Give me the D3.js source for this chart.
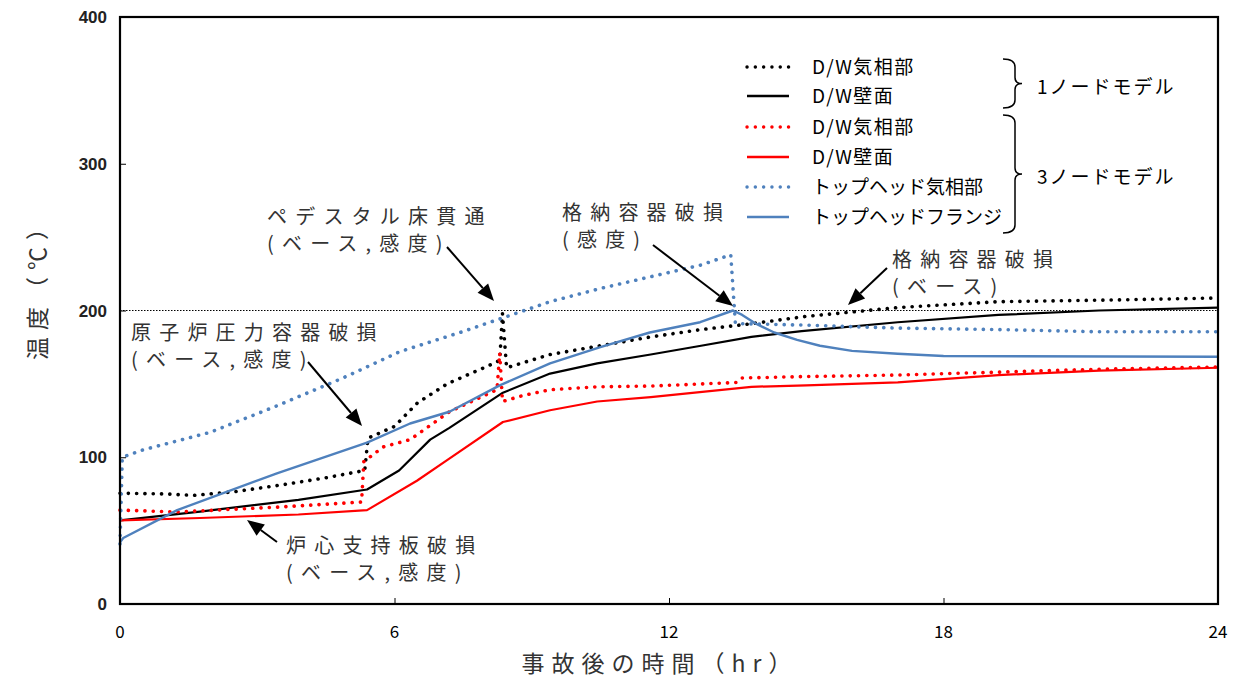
<!DOCTYPE html>
<html><head><meta charset="utf-8">
<script src="https://cdn.jsdelivr.net/npm/d3@7"></script>
<style>
html,body{margin:0;padding:0;background:#fff;}
svg{display:block;}
</style></head>
<body>
<svg id="c" width="1240" height="679"></svg>
<script>
// ---- data ----
const xTicks = [0, 6, 12, 18, 24];
const yTicks = [0, 100, 200, 300, 400];

const t_bkGas = [0, 1, 1.6, 2.5, 3.5, 4.5, 5.35, 5.42, 6, 6.5, 7.15, 8.1, 8.3, 8.36, 8.45, 9.4, 10.5, 11.6, 12.7, 13.8, 15, 16, 17, 19.2, 21.4, 24];
const v_bkGas = [75.5, 75, 74, 76.5, 81, 86, 91, 113, 121, 137, 150, 163, 166, 198, 161, 170, 176, 182, 187, 191, 196, 199, 202, 206, 207, 208.5];

const t_bkWall = [0, 1.75, 3.9, 5.4, 6.1, 6.78, 7.2, 8.37, 9.4, 10.43, 11.6, 12.7, 13.8, 14.9, 17, 19.2, 21.4, 24];
const v_bkWall = [57, 63, 71, 78, 91, 112, 120, 144, 157, 164, 170, 176, 182, 186, 192, 197, 200, 202];

const t_rdGas = [0, 1.25, 3.43, 5.28, 5.33, 5.75, 6.34, 7.2, 8.24, 8.3, 8.36, 8.8, 9.4, 10.43, 11.6, 13.5, 13.6, 15, 17, 19.2, 21.4, 24];
const v_rdGas = [64, 62.7, 66, 69.5, 97, 107, 112, 131, 146, 171, 138, 142, 146, 148, 148.5, 151, 154, 155, 156, 158, 160, 161.5];

const t_rdWall = [0, 1.75, 3.9, 5.4, 6.49, 7.15, 8.37, 9.4, 10.43, 11.6, 13.8, 15, 17, 19.2, 21.4, 24];
const v_rdWall = [57, 58.6, 61, 64, 84, 98, 124, 132, 138, 141, 148, 149, 151, 156, 159, 161];

const t_thGas = [0, 0.05, 0.5, 1.97, 3.43, 4.87, 6.12, 7.43, 8.37, 9.4, 10.5, 11.6, 12.7, 13.35, 13.45, 13.6, 15, 17, 19.2, 21.4, 24];
const v_thGas = [41, 100, 105, 117, 135, 154, 172, 185, 195, 206, 215, 223, 231, 238, 191.5, 191, 190, 188, 187, 185.5, 185.5];

const t_thFlange = [0, 0.07, 1.25, 3.43, 5.4, 6.34, 7.2, 8.3, 9.4, 10.5, 11.58, 12.68, 13.4, 13.6, 13.9, 14.3, 14.8, 15.3, 16, 17, 18, 24];
const v_thFlange = [42, 45, 64, 89, 110, 123, 131, 149, 164, 175, 185, 192, 200, 197, 191, 185, 180, 176, 172.5, 170.5, 169, 168.5];

const seriesNames = ["D/W気相部", "D/W壁面", "D/W気相部", "D/W壁面", "トップヘッド気相部", "トップヘッドフランジ"];
const groupLabels = ["1ノードモデル", "3ノードモデル"];

// ---- chart ----
const svg = d3.select("#c");
const X = d3.scaleLinear().domain([0, 24]).range([120, 1218]);
const Y = d3.scaleLinear().domain([0, 400]).range([604, 17]);
const BLUE = "#4f81bd", RED = "#ff0000", BLACK = "#000";
const jp = "'Noto Sans CJK JP', 'Noto Sans', sans-serif";

const styles = [
  {c: BLACK, dot: true, t: t_bkGas, v: v_bkGas},
  {c: BLACK, dot: false, t: t_bkWall, v: v_bkWall},
  {c: RED, dot: true, t: t_rdGas, v: v_rdGas},
  {c: RED, dot: false, t: t_rdWall, v: v_rdWall},
  {c: BLUE, dot: true, t: t_thGas, v: v_thGas},
  {c: BLUE, dot: false, t: t_thFlange, v: v_thFlange}
];

// reference line at 200
svg.append("line").attr("x1", X(0)).attr("x2", X(24)).attr("y1", Y(200)).attr("y2", Y(200))
  .attr("stroke", "#000").attr("stroke-width", 1).attr("stroke-dasharray", "1.5 1.5");

const line = d3.line().x(d => X(d[0])).y(d => Y(d[1]));
styles.forEach(s => {
  const pts = s.t.map((t, i) => [t, s.v[i]]);
  const p = svg.append("path").attr("d", line(pts)).attr("fill", "none").attr("stroke", s.c);
  if (s.dot) {
    p.attr("stroke-width", 3.6).attr("stroke-linecap", "round").attr("stroke-dasharray", "0.1 8.2");
  } else {
    p.attr("stroke-width", s.c === BLUE ? 2.4 : 2.2).attr("stroke-linejoin", "round");
  }
});

// frame
svg.append("rect").attr("x", X(0)).attr("y", Y(400)).attr("width", X(24) - X(0)).attr("height", Y(0) - Y(400))
  .attr("fill", "none").attr("stroke", "#000").attr("stroke-width", 2.2);

// ticks (inside)
const xAxis = d3.axisTop(X).tickValues(xTicks.slice(1, -1)).tickSize(6).tickFormat("");
svg.append("g").attr("transform", `translate(0,${Y(0)})`).call(xAxis)
  .call(g => g.select(".domain").remove())
  .call(g => g.selectAll("line").attr("stroke", "#000").attr("stroke-width", 1));
const yAxis = d3.axisRight(Y).tickValues(yTicks.slice(1, -1)).tickSize(6).tickFormat("");
svg.append("g").attr("transform", `translate(${X(0)},0)`).call(yAxis)
  .call(g => g.select(".domain").remove())
  .call(g => g.selectAll("line").attr("stroke", "#000").attr("stroke-width", 1));

// tick labels
svg.append("g").selectAll("text").data(xTicks).join("text")
  .attr("x", d => X(d)).attr("y", 638).attr("text-anchor", "middle")
  .attr("font-family", jp).attr("font-size", 17).attr("fill", "#000").text(d => d);
svg.append("g").selectAll("text").data(yTicks).join("text")
  .attr("x", 107).attr("y", d => Y(d) + 6).attr("text-anchor", "end")
  .attr("font-family", "'Liberation Sans', Arial, sans-serif").attr("font-weight", "bold")
  .attr("font-size", 17).attr("fill", "#222").text(d => d);

// axis titles
svg.append("text").attr("x", 660).attr("y", 672).attr("text-anchor", "middle")
  .attr("font-family", jp).attr("font-size", 23).attr("letter-spacing", 7)
  .attr("fill", "#333").text("事故後の時間（hr）");
svg.append("text").attr("transform", "translate(46,285) rotate(-90)").attr("text-anchor", "middle")
  .attr("font-family", jp).attr("font-size", 23).attr("letter-spacing", 7)
  .attr("fill", "#333").text("温度（℃）");

// legend
const legY = [67, 96, 127, 157, 187, 217];
styles.forEach((s, i) => {
  const l = svg.append("line").attr("x1", 747).attr("x2", 789).attr("y1", legY[i]).attr("y2", legY[i]).attr("stroke", s.c);
  if (s.dot) l.attr("stroke-width", 3.4).attr("stroke-linecap", "round").attr("stroke-dasharray", "0.1 8.2");
  else l.attr("stroke-width", 2.4);
  svg.append("text").attr("x", 812).attr("y", legY[i] + 7).attr("font-family", jp).attr("font-size", 19)
    .attr("letter-spacing", i < 4 ? 1.5 : 0).attr("fill", "#000").text(seriesNames[i]);
});

// braces
function brace(x, y0, y1) {
  const ym = (y0 + y1) / 2, w = 12;
  const d = `M${x},${y0} Q${x + w},${y0} ${x + w},${y0 + 8} L${x + w},${ym - 6} Q${x + w},${ym} ${x + w + 7},${ym}` +
            ` Q${x + w},${ym} ${x + w},${ym + 6} L${x + w},${y1 - 8} Q${x + w},${y1} ${x},${y1}`;
  svg.append("path").attr("d", d).attr("fill", "none").attr("stroke", "#000").attr("stroke-width", 1.5);
}
brace(1003, 59, 108);
brace(1003, 115, 233);
svg.append("text").attr("x", 1037).attr("y", 94).attr("font-family", jp).attr("font-size", 19).attr("letter-spacing", 2).attr("fill", "#000").text(groupLabels[0]);
svg.append("text").attr("x", 1037).attr("y", 184).attr("font-family", jp).attr("font-size", 19).attr("letter-spacing", 2).attr("fill", "#000").text(groupLabels[1]);

// annotations
function note(x, y, lines) {
  lines.forEach((t, i) => {
    svg.append("text").attr("x", x).attr("y", y + i * 27).attr("font-family", jp).attr("font-size", 20)
      .attr("letter-spacing", 8.2).attr("fill", "#333").text(t);
  });
}
function arrow(x1, y1, x2, y2) {
  const a = Math.atan2(y2 - y1, x2 - x1), L = 17, W = 7;
  const bx = x2 - L * Math.cos(a), by = y2 - L * Math.sin(a);
  svg.append("line").attr("x1", x1).attr("y1", y1).attr("x2", bx).attr("y2", by).attr("stroke", "#000").attr("stroke-width", 2);
  svg.append("path").attr("d", `M${x2},${y2} L${bx + W * Math.sin(a)},${by - W * Math.cos(a)} L${bx - W * Math.sin(a)},${by + W * Math.cos(a)} Z`).attr("fill", "#000");
}
note(267, 224, ["ペデスタル床貫通", "(ベース,感度)"]);
arrow(447, 247, 494, 301);
note(562, 220, ["格納容器破損", "(感度)"]);
arrow(653, 245, 733, 306);
note(892, 267, ["格納容器破損", "(ベース)"]);
arrow(887, 268, 848, 305);
note(131, 340, ["原子炉圧力容器破損", "(ベース,感度)"]);
arrow(308, 362, 362, 426);
note(286, 553, ["炉心支持板破損", "(ベース,感度)"]);
arrow(277, 542, 247, 520);
</script>
</body></html>
